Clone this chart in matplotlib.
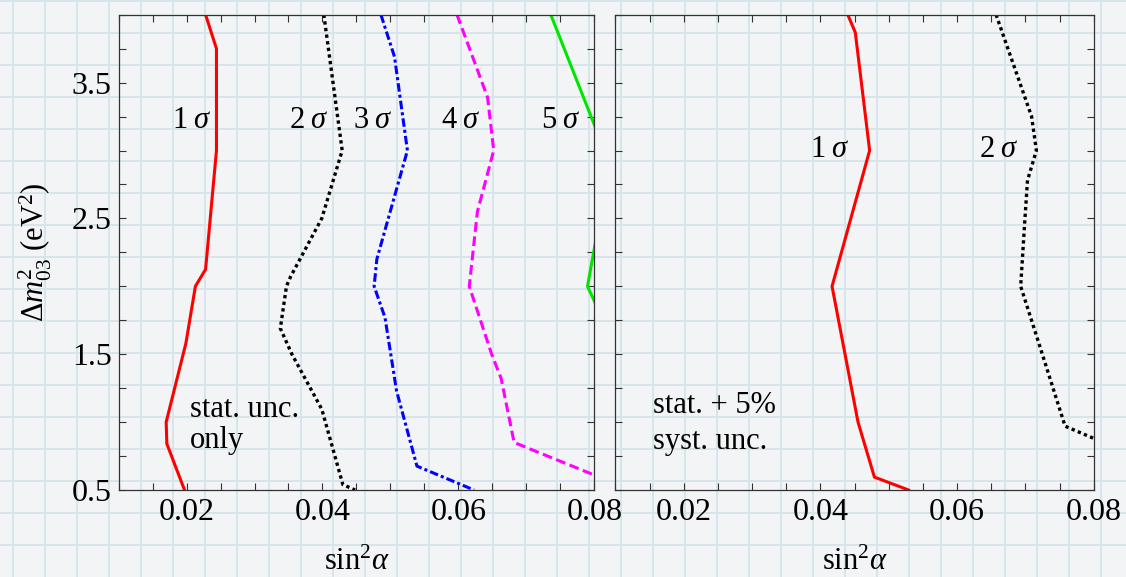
import numpy as np
import matplotlib
matplotlib.use('Agg')
import matplotlib.pyplot as plt
from matplotlib.ticker import MultipleLocator, FixedLocator, FormatStrFormatter, NullFormatter

plt.rcParams['font.family'] = ['Liberation Serif', 'DejaVu Serif']
plt.rcParams['mathtext.fontset'] = 'custom'
plt.rcParams['mathtext.rm'] = 'Liberation Serif'
plt.rcParams['mathtext.it'] = 'Liberation Serif:italic'
plt.rcParams['mathtext.bf'] = 'Liberation Serif:bold'

# ── contour data: sin^2(alpha) vs Delta m^2_03 (eV^2) ─────────────────────
# left panel: statistical uncertainty only
stat_1s_x = [0.0228, 0.0244, 0.0244, 0.0228, 0.0213, 0.0199, 0.0170, 0.0171, 0.0197]
stat_1s_y = [4.0, 3.75, 3.0, 2.125, 2.0, 1.58, 1.0, 0.84, 0.5]

stat_2s_x = [0.0402, 0.0429, 0.0399, 0.0353, 0.0347, 0.0338, 0.0355, 0.0399, 0.0430, 0.0448]
stat_2s_y = [4.0, 3.0, 2.5, 2.07, 2.0, 1.69, 1.5, 1.095, 0.54, 0.5]

stat_3s_x = [0.0486, 0.0506, 0.0525, 0.0480, 0.0476, 0.0492, 0.0509, 0.0539, 0.0623]
stat_3s_y = [4.0, 3.69, 3.0, 2.2, 2.0, 1.77, 1.23, 0.676, 0.5]

stat_4s_x = [0.0598, 0.0643, 0.0652, 0.0628, 0.0616, 0.0649, 0.0663, 0.0682, 0.0800]
stat_4s_y = [4.0, 3.39, 3.0, 2.55, 2.0, 1.5, 1.32, 0.85, 0.61]

stat_5s_x = [0.0736, 0.0815, 0.0808, 0.0790, 0.0813]
stat_5s_y = [4.0, 3.0, 2.5, 2.0, 1.75]

# right panel: stat. + 5% systematic
syst_1s_x = [0.0440, 0.0451, 0.0472, 0.0417, 0.0455, 0.0479, 0.0529]
syst_1s_y = [4.0, 3.87, 3.0, 2.0, 1.0, 0.595, 0.5]

syst_2s_x = [0.0657, 0.0709, 0.0716, 0.0703, 0.0699, 0.0693, 0.0719, 0.0758, 0.0800]
syst_2s_y = [4.0, 3.25, 3.0, 2.78, 2.48, 2.0, 1.59, 0.97, 0.88]

x_ticks = [0.02, 0.04, 0.06, 0.08]
y_ticks = [0.5, 1.5, 2.5, 3.5]

W, H = 1126, 577
FS = 22
FS_TICK = 23
PAPER = '#f2f4f5'
PAPER_LINE = '#d7e5ea'
SPINE = '#333333'

sty_solid = dict(ls='-', lw=2.2)
sty_dot = dict(ls=(0, (1.0, 1.0)), lw=2.4)
sty_dashdot = dict(ls=(0, (2.8, 1.0, 1.0, 1.0)), lw=2.2)
sty_dash = dict(ls=(0, (3.2, 1.5)), lw=2.2)

fig = plt.figure(figsize=(W / 100, H / 100), dpi=100)
fig.patch.set_facecolor(PAPER)

# graph-paper backdrop in pixel coordinates
bg = fig.add_axes([0, 0, 1, 1], zorder=-10)
bg.set_xlim(0, W)
bg.set_ylim(H, 0)
bg.axis('off')
for gx in np.arange(13, W, 32):
    bg.axvline(gx, color=PAPER_LINE, lw=1.4)
for gy in np.arange(1, H, 32):
    bg.axhline(gy, color=PAPER_LINE, lw=1.4)


def setup_axes(ax, show_ylabels):
    ax.set_facecolor('none')
    ax.set_xlim(0.01, 0.08)
    ax.set_ylim(0.5, 4.0)
    ax.xaxis.set_major_locator(FixedLocator(x_ticks))
    ax.xaxis.set_minor_locator(MultipleLocator(0.005))
    ax.yaxis.set_major_locator(FixedLocator(y_ticks))
    ax.yaxis.set_minor_locator(MultipleLocator(0.25))
    ax.xaxis.set_major_formatter(FormatStrFormatter('%.2f'))
    if show_ylabels:
        ax.yaxis.set_major_formatter(FormatStrFormatter('%.1f'))
    else:
        ax.yaxis.set_major_formatter(NullFormatter())
    for which in ('major', 'minor'):
        ax.tick_params(axis='both', which=which, direction='in', length=5,
                       width=0.8, color=SPINE, top=True, right=True)
    ax.tick_params(axis='x', which='major', labelsize=FS_TICK, pad=6)
    ax.tick_params(axis='y', which='major', labelsize=FS_TICK, pad=5)
    for sp in ax.spines.values():
        sp.set_color(SPINE)
        sp.set_linewidth(0.9)
    ax.set_xlabel(r'$\mathrm{sin}^2\alpha$', fontsize=FS, labelpad=15)


ax1 = fig.add_axes([118.6 / W, 1 - 490 / H, 475.7 / W, 475.3 / H])
ax2 = fig.add_axes([615.4 / W, 1 - 490 / H, 478.4 / W, 475.3 / H])
setup_axes(ax1, True)
setup_axes(ax2, False)

ax1.set_ylabel('Δ$m^2_{03}$ (eV$^2$)', fontsize=FS)
ax1.yaxis.set_label_coords(-0.135, 0.5)

# left panel
ax1.plot(stat_1s_x, stat_1s_y, color='#ff0000', **sty_solid)
ax1.plot(stat_2s_x, stat_2s_y, color='#000000', **sty_dot)
ax1.plot(stat_3s_x, stat_3s_y, color='#0000ff', **sty_dashdot)
ax1.plot(stat_4s_x, stat_4s_y, color='#ff00ff', **sty_dash)
ax1.plot(stat_5s_x, stat_5s_y, color='#00e600', **sty_solid)

for xs, lab in [(0.0207, '1'), (0.0380, '2'), (0.0474, '3'), (0.0604, '4'), (0.0751, '5')]:
    ax1.text(xs, 3.22, rf'${lab}\;\sigma$', fontsize=FS, ha='center', va='center')

ax1.text(0.0205, 1.09, 'stat. unc.', fontsize=FS, ha='left', va='center')
ax1.text(0.0205, 0.865, 'only', fontsize=FS, ha='left', va='center')

# right panel
ax2.plot(syst_1s_x, syst_1s_y, color='#ff0000', **sty_solid)
ax2.plot(syst_2s_x, syst_2s_y, color='#000000', **sty_dot)

ax2.text(0.0413, 3.01, r'$1\;\sigma$', fontsize=FS, ha='center', va='center')
ax2.text(0.0661, 3.01, r'$2\;\sigma$', fontsize=FS, ha='center', va='center')

ax2.text(0.0155, 1.12, 'stat. + 5%', fontsize=FS, ha='left', va='center')
ax2.text(0.0155, 0.855, 'syst. unc.', fontsize=FS, ha='left', va='center')

fig.savefig('out.png', dpi=100, facecolor=fig.get_facecolor())
